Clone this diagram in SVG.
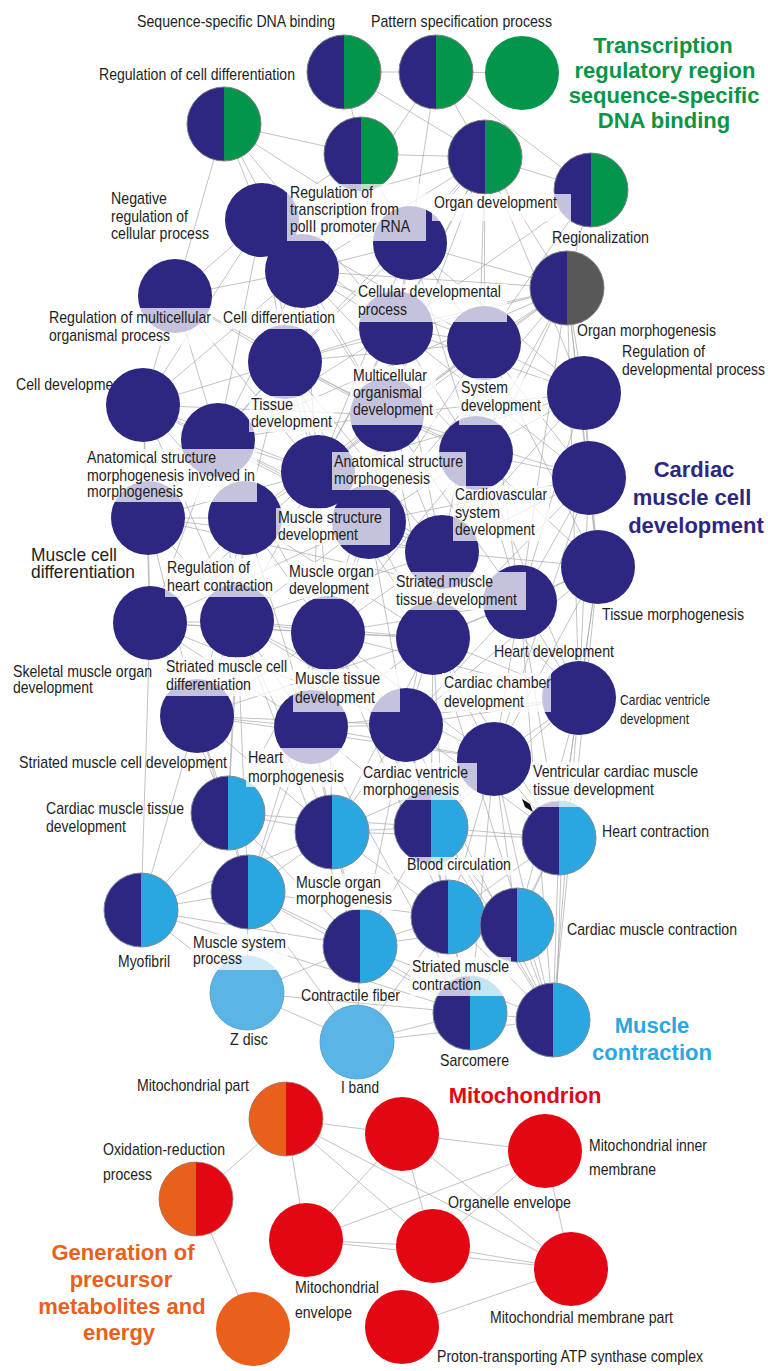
<svg xmlns="http://www.w3.org/2000/svg" xmlns:xlink="http://www.w3.org/1999/xlink" width="768" height="1371" viewBox="0 0 768 1371">
<style>
.e{stroke:#a6a6a6;stroke-width:0.85;fill:none;opacity:0.8}
.t{font-family:"Liberation Sans",Arial,sans-serif;font-size:17px;fill:#1e1e1e}
.ts{font-family:"Liberation Sans",Arial,sans-serif;font-size:15px;fill:#1e1e1e}
.tm{font-family:"Liberation Sans",Arial,sans-serif;font-size:19px;fill:#1e1e1e}
.h{font-family:"Liberation Sans",Arial,sans-serif;font-size:22px;font-weight:bold;text-anchor:middle}
.lb{fill:#ffffff;opacity:0.72}
.pu{fill:#2E2782}
.gr{fill:#03954A}
.lbl{fill:#5BB4E6;stroke:#4a9ccc;stroke-width:0.8}
.rd{fill:#E30613}
.or{fill:#E8601B}
</style>
<defs>
<g id="pie-pg"><circle r="37" fill="#03954A"/><path d="M0 -37A37 37 0 0 0 0 37Z" fill="#2E2782"/><circle r="37" fill="none" stroke="#808080" stroke-width="1"/></g>
<g id="pie-pb"><circle r="37" fill="#2AA7E0"/><path d="M0 -37A37 37 0 0 0 0 37Z" fill="#2E2782"/><circle r="37" fill="none" stroke="#7d8a95" stroke-width="1"/></g>
<g id="pie-pk"><circle r="37" fill="#585858"/><path d="M0 -37A37 37 0 0 0 0 37Z" fill="#2E2782"/><circle r="37" fill="none" stroke="#808080" stroke-width="1"/></g>
<g id="pie-or"><circle r="37" fill="#E30613"/><path d="M0 -37A37 37 0 0 0 0 37Z" fill="#E8601B"/><circle r="37" fill="none" stroke="#a08070" stroke-width="0.8"/></g>
</defs>
<rect width="768" height="1371" fill="#ffffff"/>

<g id="connectors">
<path class="e" d="M344 72L436 72"/><path class="e" d="M436 72L522 73"/><path class="e" d="M344 72L361 154"/><path class="e" d="M224 124L361 154"/><path class="e" d="M436 72L485 157"/><path class="e" d="M436 72L591 190"/><path class="e" d="M344 72L485 157"/><path class="e" d="M361 154L485 157"/><path class="e" d="M485 157L591 190"/>
<path class="e" d="M224 124L262 220"/><path class="e" d="M224 124L302 271"/><path class="e" d="M224 124L410 243"/><path class="e" d="M224 124L396 328"/><path class="e" d="M224 124L175 296"/>
<path class="e" d="M361 154L262 220"/><path class="e" d="M361 154L302 271"/><path class="e" d="M361 154L285 362"/><path class="e" d="M361 154L410 243"/>
<path class="e" d="M485 157L410 243"/><path class="e" d="M485 157L396 328"/><path class="e" d="M485 157L484 343"/><path class="e" d="M485 157L285 362"/><path class="e" d="M485 157L387 415"/><path class="e" d="M485 157L476 453"/><path class="e" d="M485 157L318 472"/><path class="e" d="M485 157L302 271"/><path class="e" d="M485 157L262 220"/><path class="e" d="M485 157L567 288"/><path class="e" d="M485 157L584 393"/>
<path class="e" d="M591 190L567 288"/><path class="e" d="M591 190L484 343"/><path class="e" d="M591 190L396 328"/><path class="e" d="M436 72L410 243"/><path class="e" d="M436 72L302 271"/>
<path class="e" d="M567 288L396 328"/><path class="e" d="M567 288L484 343"/><path class="e" d="M567 288L584 393"/><path class="e" d="M567 288L387 415"/><path class="e" d="M567 288L476 453"/><path class="e" d="M567 288L589 478"/><path class="e" d="M567 288L598 567"/><path class="e" d="M567 288L318 472"/><path class="e" d="M567 288L520 602"/><path class="e" d="M567 288L302 271"/><path class="e" d="M567 288L285 362"/><path class="e" d="M567 288L410 243"/><path class="e" d="M567 288L442 552"/><path class="e" d="M567 288L369 522"/><path class="e" d="M567 288L218 440"/><path class="e" d="M567 288L579 698"/>
<path class="e" d="M262 220L410 243"/><path class="e" d="M262 220L302 271"/><path class="e" d="M262 220L175 296"/><path class="e" d="M262 220L396 328"/><path class="e" d="M262 220L285 362"/><path class="e" d="M262 220L387 415"/><path class="e" d="M262 220L484 343"/><path class="e" d="M262 220L318 472"/>
<path class="e" d="M410 243L302 271"/><path class="e" d="M410 243L396 328"/><path class="e" d="M410 243L484 343"/><path class="e" d="M410 243L285 362"/><path class="e" d="M410 243L387 415"/><path class="e" d="M410 243L476 453"/>
<path class="e" d="M302 271L175 296"/><path class="e" d="M302 271L396 328"/><path class="e" d="M302 271L285 362"/><path class="e" d="M302 271L143 405"/><path class="e" d="M302 271L387 415"/><path class="e" d="M302 271L218 440"/><path class="e" d="M302 271L484 343"/><path class="e" d="M302 271L318 472"/>
<path class="e" d="M175 296L285 362"/><path class="e" d="M175 296L143 405"/><path class="e" d="M175 296L218 440"/>
<path class="e" d="M396 328L484 343"/><path class="e" d="M396 328L285 362"/><path class="e" d="M396 328L387 415"/><path class="e" d="M396 328L476 453"/><path class="e" d="M396 328L318 472"/><path class="e" d="M396 328L584 393"/><path class="e" d="M396 328L218 440"/><path class="e" d="M396 328L369 522"/>
<path class="e" d="M484 343L584 393"/><path class="e" d="M484 343L387 415"/><path class="e" d="M484 343L476 453"/><path class="e" d="M484 343L589 478"/><path class="e" d="M484 343L318 472"/><path class="e" d="M484 343L442 552"/><path class="e" d="M484 343L285 362"/>
<path class="e" d="M584 393L476 453"/><path class="e" d="M584 393L589 478"/><path class="e" d="M584 393L387 415"/><path class="e" d="M584 393L598 567"/><path class="e" d="M584 393L442 552"/><path class="e" d="M584 393L520 602"/>
<path class="e" d="M285 362L143 405"/><path class="e" d="M285 362L387 415"/><path class="e" d="M285 362L218 440"/><path class="e" d="M285 362L318 472"/><path class="e" d="M285 362L245 518"/><path class="e" d="M285 362L476 453"/><path class="e" d="M285 362L369 522"/>
<path class="e" d="M143 405L218 440"/><path class="e" d="M143 405L318 472"/><path class="e" d="M143 405L148 518"/><path class="e" d="M143 405L245 518"/><path class="e" d="M143 405L387 415"/><path class="e" d="M143 405L369 522"/><path class="e" d="M143 405L237 621"/>
<path class="e" d="M387 415L218 440"/><path class="e" d="M387 415L476 453"/><path class="e" d="M387 415L318 472"/><path class="e" d="M387 415L369 522"/><path class="e" d="M387 415L442 552"/><path class="e" d="M387 415L589 478"/><path class="e" d="M387 415L245 518"/>
<path class="e" d="M218 440L318 472"/><path class="e" d="M218 440L148 518"/><path class="e" d="M218 440L245 518"/><path class="e" d="M218 440L369 522"/><path class="e" d="M218 440L150 623"/><path class="e" d="M218 440L237 621"/><path class="e" d="M218 440L328 633"/>
<path class="e" d="M476 453L589 478"/><path class="e" d="M476 453L318 472"/><path class="e" d="M476 453L369 522"/><path class="e" d="M476 453L442 552"/><path class="e" d="M476 453L598 567"/><path class="e" d="M476 453L520 602"/><path class="e" d="M476 453L433 638"/><path class="e" d="M476 453L328 633"/>
<path class="e" d="M589 478L442 552"/><path class="e" d="M589 478L598 567"/><path class="e" d="M589 478L520 602"/><path class="e" d="M589 478L579 698"/><path class="e" d="M589 478L433 638"/>
<path class="e" d="M318 472L148 518"/><path class="e" d="M318 472L245 518"/><path class="e" d="M318 472L369 522"/><path class="e" d="M318 472L442 552"/><path class="e" d="M318 472L433 638"/><path class="e" d="M318 472L237 621"/><path class="e" d="M318 472L328 633"/>
<path class="e" d="M148 518L245 518"/><path class="e" d="M148 518L150 623"/><path class="e" d="M148 518L237 621"/><path class="e" d="M148 518L197 716"/><path class="e" d="M148 518L442 552"/><path class="e" d="M148 518L520 602"/>
<path class="e" d="M245 518L369 522"/><path class="e" d="M245 518L150 623"/><path class="e" d="M245 518L237 621"/><path class="e" d="M245 518L328 633"/><path class="e" d="M245 518L197 716"/><path class="e" d="M245 518L311 727"/>
<path class="e" d="M369 522L442 552"/><path class="e" d="M369 522L433 638"/><path class="e" d="M369 522L237 621"/><path class="e" d="M369 522L328 633"/><path class="e" d="M369 522L520 602"/>
<path class="e" d="M442 552L520 602"/><path class="e" d="M442 552L433 638"/><path class="e" d="M442 552L328 633"/><path class="e" d="M442 552L598 567"/><path class="e" d="M442 552L406 725"/>
<path class="e" d="M598 567L520 602"/><path class="e" d="M598 567L579 698"/><path class="e" d="M598 567L494 759"/><path class="e" d="M598 567L433 638"/>
<path class="e" d="M520 602L433 638"/><path class="e" d="M520 602L579 698"/><path class="e" d="M520 602L406 725"/><path class="e" d="M520 602L494 759"/>
<path class="e" d="M433 638L328 633"/><path class="e" d="M433 638L406 725"/><path class="e" d="M433 638L494 759"/><path class="e" d="M433 638L579 698"/><path class="e" d="M433 638L311 727"/>
<path class="e" d="M150 623L237 621"/><path class="e" d="M150 623L197 716"/><path class="e" d="M150 623L311 727"/><path class="e" d="M150 623L328 633"/><path class="e" d="M150 623L433 638"/>
<path class="e" d="M237 621L328 633"/><path class="e" d="M237 621L197 716"/><path class="e" d="M237 621L311 727"/><path class="e" d="M237 621L406 725"/><path class="e" d="M237 621L494 759"/>
<path class="e" d="M328 633L311 727"/><path class="e" d="M328 633L406 725"/><path class="e" d="M328 633L197 716"/><path class="e" d="M328 633L494 759"/>
<path class="e" d="M579 698L494 759"/><path class="e" d="M579 698L406 725"/><path class="e" d="M197 716L311 727"/><path class="e" d="M197 716L406 725"/><path class="e" d="M197 716L494 759"/><path class="e" d="M311 727L406 725"/><path class="e" d="M311 727L494 759"/>
<path class="e" d="M175 296L318 472"/><path class="e" d="M175 296L387 415"/><path class="e" d="M262 220L143 405"/><path class="e" d="M262 220L218 440"/><path class="e" d="M410 243L318 472"/><path class="e" d="M410 243L584 393"/><path class="e" d="M302 271L476 453"/><path class="e" d="M396 328L589 478"/><path class="e" d="M396 328L442 552"/><path class="e" d="M484 343L369 522"/><path class="e" d="M484 343L598 567"/><path class="e" d="M484 343L520 602"/><path class="e" d="M584 393L318 472"/><path class="e" d="M285 362L148 518"/><path class="e" d="M285 362L442 552"/><path class="e" d="M143 405L150 623"/><path class="e" d="M387 415L520 602"/><path class="e" d="M387 415L433 638"/><path class="e" d="M387 415L328 633"/><path class="e" d="M218 440L442 552"/><path class="e" d="M476 453L579 698"/><path class="e" d="M589 478L369 522"/><path class="e" d="M589 478L494 759"/><path class="e" d="M318 472L520 602"/><path class="e" d="M318 472L150 623"/><path class="e" d="M318 472L311 727"/><path class="e" d="M245 518L433 638"/><path class="e" d="M245 518L442 552"/><path class="e" d="M369 522L150 623"/><path class="e" d="M369 522L406 725"/><path class="e" d="M369 522L311 727"/><path class="e" d="M442 552L237 621"/><path class="e" d="M442 552L579 698"/><path class="e" d="M598 567L406 725"/><path class="e" d="M520 602L328 633"/><path class="e" d="M433 638L237 621"/><path class="e" d="M433 638L197 716"/><path class="e" d="M150 623L406 725"/><path class="e" d="M328 633L579 698"/><path class="e" d="M579 698L311 727"/>
<path class="e" d="M197 716L228 813"/><path class="e" d="M311 727L228 813"/><path class="e" d="M311 727L332 832"/><path class="e" d="M406 725L332 832"/><path class="e" d="M406 725L431 827"/><path class="e" d="M494 759L431 827"/><path class="e" d="M494 759L559 838"/><path class="e" d="M328 633L228 813"/><path class="e" d="M237 621L228 813"/><path class="e" d="M328 633L332 832"/><path class="e" d="M433 638L332 832"/><path class="e" d="M433 638L431 827"/><path class="e" d="M579 698L431 827"/><path class="e" d="M579 698L559 838"/><path class="e" d="M520 602L559 838"/><path class="e" d="M598 567L559 838"/><path class="e" d="M150 623L228 813"/><path class="e" d="M245 518L228 813"/>
<path class="e" d="M237 621L332 832"/><path class="e" d="M197 716L332 832"/><path class="e" d="M311 727L431 827"/><path class="e" d="M494 759L332 832"/><path class="e" d="M406 725L559 838"/><path class="e" d="M328 633L431 827"/><path class="e" d="M433 638L559 838"/><path class="e" d="M150 623L141 910"/><path class="e" d="M237 621L360 946"/><path class="e" d="M494 759L470 1013"/>
<path class="e" d="M579 698L553 1020"/><path class="e" d="M494 759L553 1020"/><path class="e" d="M406 725L553 1020"/><path class="e" d="M433 638L553 1020"/><path class="e" d="M328 633L553 1020"/><path class="e" d="M311 727L470 1013"/><path class="e" d="M406 725L470 1013"/><path class="e" d="M433 638L448 917"/><path class="e" d="M328 633L448 917"/><path class="e" d="M197 716L248 892"/><path class="e" d="M237 621L248 892"/><path class="e" d="M328 633L248 892"/><path class="e" d="M311 727L360 946"/><path class="e" d="M406 725L360 946"/><path class="e" d="M494 759L517 925"/><path class="e" d="M579 698L517 925"/><path class="e" d="M311 727L248 892"/><path class="e" d="M406 725L448 917"/><path class="e" d="M494 759L448 917"/><path class="e" d="M197 716L141 910"/><path class="e" d="M520 602L553 1020"/><path class="e" d="M598 567L553 1020"/>
<path class="e" d="M228 813L332 832"/><path class="e" d="M228 813L141 910"/><path class="e" d="M228 813L248 892"/><path class="e" d="M228 813L431 827"/><path class="e" d="M332 832L431 827"/><path class="e" d="M332 832L248 892"/><path class="e" d="M332 832L448 917"/><path class="e" d="M332 832L360 946"/><path class="e" d="M332 832L559 838"/><path class="e" d="M431 827L559 838"/><path class="e" d="M431 827L448 917"/><path class="e" d="M431 827L517 925"/><path class="e" d="M431 827L360 946"/><path class="e" d="M559 838L517 925"/><path class="e" d="M559 838L553 1020"/><path class="e" d="M562 840L556 1020"/><path class="e" d="M559 838L448 917"/><path class="e" d="M559 838L470 1013"/>
<path class="e" d="M141 910L248 892"/><path class="e" d="M141 910L247 993"/><path class="e" d="M141 910L332 832"/><path class="e" d="M141 910L360 946"/><path class="e" d="M141 910L470 1013"/><path class="e" d="M248 892L360 946"/><path class="e" d="M248 892L247 993"/><path class="e" d="M248 892L357 1042"/><path class="e" d="M248 892L448 917"/><path class="e" d="M248 892L470 1013"/><path class="e" d="M448 917L517 925"/><path class="e" d="M448 917L360 946"/><path class="e" d="M448 917L470 1013"/><path class="e" d="M448 917L553 1020"/><path class="e" d="M448 917L357 1042"/><path class="e" d="M517 925L553 1020"/><path class="e" d="M517 925L470 1013"/><path class="e" d="M517 925L360 946"/><path class="e" d="M360 946L247 993"/><path class="e" d="M360 946L357 1042"/><path class="e" d="M360 946L470 1013"/><path class="e" d="M360 946L553 1020"/><path class="e" d="M247 993L357 1042"/><path class="e" d="M247 993L470 1013"/><path class="e" d="M357 1042L470 1013"/><path class="e" d="M357 1042L553 1020"/><path class="e" d="M470 1013L553 1020"/><path class="e" d="M228 813L360 946"/><path class="e" d="M431 827L553 1020"/>
<path class="e" d="M286 1119L402 1134"/><path class="e" d="M286 1119L306 1240"/><path class="e" d="M286 1119L571 1269"/><path class="e" d="M286 1119L433 1246"/><path class="e" d="M196 1199L286 1119"/><path class="e" d="M196 1199L253 1329"/><path class="e" d="M402 1134L545 1151"/><path class="e" d="M402 1134L306 1240"/><path class="e" d="M402 1134L433 1246"/><path class="e" d="M306 1240L545 1151"/><path class="e" d="M545 1151L433 1246"/><path class="e" d="M545 1151L571 1269"/><path class="e" d="M306 1240L433 1246"/><path class="e" d="M306 1240L571 1269"/><path class="e" d="M433 1246L571 1269"/><path class="e" d="M402 1327L571 1269"/><path class="e" d="M402 1134L571 1269"/>
<polygon points="522,799 530,804 533,812 525,807" fill="#111111"/>
</g>

<g id="labels-under">
<text class="t" x="16" y="390" textLength="109" lengthAdjust="spacingAndGlyphs">Cell development</text>
</g>

<g id="nodes">
<g id="n-seq-dna"><use href="#pie-pg" x="344" y="72"/></g>
<g id="n-pattern"><use href="#pie-pg" x="436" y="72"/></g>
<g id="n-trr"><circle class="gr" cx="522" cy="73" r="37"/></g>
<g id="n-reg-cell-diff"><use href="#pie-pg" x="224" y="124"/></g>
<g id="n-g5"><use href="#pie-pg" x="361" y="154"/></g>
<g id="n-organ-dev"><use href="#pie-pg" x="485" y="157"/></g>
<g id="n-g7"><use href="#pie-pg" x="591" y="190"/></g>
<g id="n-regionalization"><use href="#pie-pk" x="567" y="288"/></g>
<g id="n-p1"><circle class="pu" cx="262" cy="220" r="37"/></g>
<g id="n-p2"><circle class="pu" cx="410" cy="243" r="37"/></g>
<g id="n-p3"><circle class="pu" cx="302" cy="271" r="37"/></g>
<g id="n-p4"><circle class="pu" cx="175" cy="296" r="37"/></g>
<g id="n-p5"><circle class="pu" cx="396" cy="328" r="37"/></g>
<g id="n-p6"><circle class="pu" cx="484" cy="343" r="37"/></g>
<g id="n-p7"><circle class="pu" cx="584" cy="393" r="37"/></g>
<g id="n-p8"><circle class="pu" cx="285" cy="362" r="37"/></g>
<g id="n-p9"><circle class="pu" cx="143" cy="405" r="37"/></g>
<g id="n-p10"><circle class="pu" cx="387" cy="415" r="37"/></g>
<g id="n-p11"><circle class="pu" cx="218" cy="440" r="37"/></g>
<g id="n-p12"><circle class="pu" cx="476" cy="453" r="37"/></g>
<g id="n-p13"><circle class="pu" cx="589" cy="478" r="37"/></g>
<g id="n-p14"><circle class="pu" cx="318" cy="472" r="37"/></g>
<g id="n-p15"><circle class="pu" cx="148" cy="518" r="37"/></g>
<g id="n-p16"><circle class="pu" cx="245" cy="518" r="37"/></g>
<g id="n-p17"><circle class="pu" cx="369" cy="522" r="37"/></g>
<g id="n-p18"><circle class="pu" cx="442" cy="552" r="37"/></g>
<g id="n-p19"><circle class="pu" cx="598" cy="567" r="37"/></g>
<g id="n-p20"><circle class="pu" cx="520" cy="602" r="37"/></g>
<g id="n-p21"><circle class="pu" cx="433" cy="638" r="37"/></g>
<g id="n-p22"><circle class="pu" cx="150" cy="623" r="37"/></g>
<g id="n-p23"><circle class="pu" cx="237" cy="621" r="37"/></g>
<g id="n-p24"><circle class="pu" cx="328" cy="633" r="37"/></g>
<g id="n-p25"><circle class="pu" cx="579" cy="698" r="37"/></g>
<g id="n-p26"><circle class="pu" cx="197" cy="716" r="37"/></g>
<g id="n-p27"><circle class="pu" cx="311" cy="727" r="37"/></g>
<g id="n-p28"><circle class="pu" cx="406" cy="725" r="37"/></g>
<g id="n-p29"><circle class="pu" cx="494" cy="759" r="37"/></g>
<g id="n-b1"><use href="#pie-pb" x="228" y="813"/></g>
<g id="n-b2"><use href="#pie-pb" x="332" y="832"/></g>
<g id="n-b3"><use href="#pie-pb" x="431" y="827"/></g>
<g id="n-b4"><use href="#pie-pb" x="559" y="838"/></g>
<g id="n-b5"><use href="#pie-pb" x="141" y="910"/></g>
<g id="n-b6"><use href="#pie-pb" x="248" y="892"/></g>
<g id="n-b7"><use href="#pie-pb" x="448" y="917"/></g>
<g id="n-b8"><use href="#pie-pb" x="517" y="925"/></g>
<g id="n-b9"><use href="#pie-pb" x="360" y="946"/></g>
<g id="n-zdisc"><circle class="lbl" cx="247" cy="993" r="37"/></g>
<g id="n-iband"><circle class="lbl" cx="357" cy="1042" r="37"/></g>
<g id="n-b12"><use href="#pie-pb" x="470" y="1013"/></g>
<g id="n-b13"><use href="#pie-pb" x="553" y="1020"/></g>
<g id="n-mito-part"><use href="#pie-or" x="286" y="1119"/></g>
<g id="n-oxred"><use href="#pie-or" x="196" y="1199"/></g>
<g id="n-r3"><circle class="rd" cx="402" cy="1134" r="37"/></g>
<g id="n-mito-inner"><circle class="rd" cx="545" cy="1151" r="37"/></g>
<g id="n-mito-env"><circle class="rd" cx="306" cy="1240" r="37"/></g>
<g id="n-organelle-env"><circle class="rd" cx="433" cy="1246" r="37"/></g>
<g id="n-mito-mem-part"><circle class="rd" cx="571" cy="1269" r="37"/></g>
<g id="n-generation"><circle class="or" cx="253" cy="1329" r="37"/></g>
<g id="n-proton"><circle class="rd" cx="402" cy="1327" r="37"/></g>
</g>

<g id="labels">
<text class="t" x="137" y="27" textLength="198" lengthAdjust="spacingAndGlyphs">Sequence-specific DNA binding</text>
<text class="t" x="371" y="27" textLength="181" lengthAdjust="spacingAndGlyphs">Pattern specification process</text>
<text class="t" x="99" y="80" textLength="196" lengthAdjust="spacingAndGlyphs">Regulation of cell differentiation</text>
<g id="l-negative"><text class="t" x="111" y="204" textLength="56" lengthAdjust="spacingAndGlyphs">Negative</text><text class="t" x="111" y="222" textLength="77" lengthAdjust="spacingAndGlyphs">regulation of</text><text class="t" x="111" y="239" textLength="98" lengthAdjust="spacingAndGlyphs">cellular process</text></g>
<g id="l-reg-transcription"><rect class="lb" x="287" y="184" width="139" height="57"/><text class="t" x="290" y="198" textLength="83" lengthAdjust="spacingAndGlyphs">Regulation of</text><text class="t" x="290" y="215" textLength="109" lengthAdjust="spacingAndGlyphs">transcription from</text><text class="t" x="290" y="232" textLength="120" lengthAdjust="spacingAndGlyphs">polII promoter RNA</text></g>
<g id="l-organ-dev"><rect class="lb" x="432" y="194" width="139" height="27"/><text class="t" x="434" y="208" textLength="123" lengthAdjust="spacingAndGlyphs">Organ development</text></g>
<text class="t" x="552" y="243" textLength="97" lengthAdjust="spacingAndGlyphs">Regionalization</text>
<g id="l-reg-multi"><rect class="lb" x="47" y="308" width="166" height="38"/><text class="t" x="49" y="323" textLength="162" lengthAdjust="spacingAndGlyphs">Regulation of multicellular</text><text class="t" x="49" y="341" textLength="121" lengthAdjust="spacingAndGlyphs">organismal process</text></g>
<g id="l-cell-diff"><rect class="lb" x="221" y="309" width="116" height="20"/><text class="t" x="223" y="323" textLength="112" lengthAdjust="spacingAndGlyphs">Cell differentiation</text></g>
<g id="l-cellular-dev"><rect class="lb" x="356" y="284" width="151" height="38"/><text class="t" x="358" y="297" textLength="143" lengthAdjust="spacingAndGlyphs">Cellular developmental</text><text class="t" x="358" y="315" textLength="49" lengthAdjust="spacingAndGlyphs">process</text></g>
<text class="t" x="577" y="336" textLength="139" lengthAdjust="spacingAndGlyphs">Organ morphogenesis</text>
<g id="l-reg-dev"><text class="t" x="622" y="357" textLength="83" lengthAdjust="spacingAndGlyphs">Regulation of</text><text class="t" x="622" y="375" textLength="143" lengthAdjust="spacingAndGlyphs">developmental process</text></g>
<g id="l-tissue-dev"><rect class="lb" x="249" y="396" width="85" height="36"/><text class="t" x="251" y="410" textLength="42" lengthAdjust="spacingAndGlyphs">Tissue</text><text class="t" x="251" y="427" textLength="81" lengthAdjust="spacingAndGlyphs">development</text></g>
<g id="l-multi-dev"><rect class="lb" x="350" y="366" width="86" height="59"/><text class="t" x="353" y="381" textLength="74" lengthAdjust="spacingAndGlyphs">Multicellular</text><text class="t" x="353" y="398" textLength="69" lengthAdjust="spacingAndGlyphs">organismal</text><text class="t" x="353" y="415" textLength="80" lengthAdjust="spacingAndGlyphs">development</text></g>
<g id="l-system-dev"><rect class="lb" x="459" y="378" width="84" height="47"/><text class="t" x="461" y="393" textLength="47" lengthAdjust="spacingAndGlyphs">System</text><text class="t" x="461" y="411" textLength="80" lengthAdjust="spacingAndGlyphs">development</text></g>
<g id="l-asm-involved"><rect class="lb" x="85" y="449" width="172" height="53"/><text class="t" x="87" y="463" textLength="129" lengthAdjust="spacingAndGlyphs">Anatomical structure</text><text class="t" x="87" y="481" textLength="168" lengthAdjust="spacingAndGlyphs">morphogenesis involved in</text><text class="t" x="87" y="497" textLength="96" lengthAdjust="spacingAndGlyphs">morphogenesis</text></g>
<g id="l-asm"><rect class="lb" x="332" y="452" width="134" height="38"/><text class="t" x="334" y="467" textLength="129" lengthAdjust="spacingAndGlyphs">Anatomical structure</text><text class="t" x="334" y="484" textLength="96" lengthAdjust="spacingAndGlyphs">morphogenesis</text></g>
<g id="l-cardiovascular"><rect class="lb" x="453" y="486" width="96" height="55"/><text class="t" x="455" y="500" textLength="92" lengthAdjust="spacingAndGlyphs">Cardiovascular</text><text class="t" x="455" y="518" textLength="45" lengthAdjust="spacingAndGlyphs">system</text><text class="t" x="455" y="535" textLength="80" lengthAdjust="spacingAndGlyphs">development</text></g>
<g id="l-muscle-structure"><rect class="lb" x="276" y="508" width="114" height="37"/><text class="t" x="278" y="523" textLength="104" lengthAdjust="spacingAndGlyphs">Muscle structure</text><text class="t" x="278" y="540" textLength="80" lengthAdjust="spacingAndGlyphs">development</text></g>
<g id="l-muscle-cell-diff"><text class="tm" x="31" y="561" textLength="86" lengthAdjust="spacingAndGlyphs">Muscle cell</text><text class="tm" x="31" y="578" textLength="104" lengthAdjust="spacingAndGlyphs">differentiation</text></g>
<g id="l-reg-heart"><rect class="lb" x="165" y="558" width="110" height="39"/><text class="t" x="167" y="573" textLength="83" lengthAdjust="spacingAndGlyphs">Regulation of</text><text class="t" x="167" y="591" textLength="106" lengthAdjust="spacingAndGlyphs">heart contraction</text></g>
<g id="l-muscle-organ-dev"><rect class="lb" x="287" y="562" width="88" height="37"/><text class="t" x="289" y="577" textLength="85" lengthAdjust="spacingAndGlyphs">Muscle organ</text><text class="t" x="289" y="594" textLength="80" lengthAdjust="spacingAndGlyphs">development</text></g>
<g id="l-striated-tissue"><rect class="lb" x="394" y="572" width="132" height="38"/><text class="t" x="396" y="587" textLength="97" lengthAdjust="spacingAndGlyphs">Striated muscle</text><text class="t" x="396" y="605" textLength="121" lengthAdjust="spacingAndGlyphs">tissue development</text></g>
<text class="t" x="602" y="620" textLength="142" lengthAdjust="spacingAndGlyphs">Tissue morphogenesis</text>
<g id="l-skeletal"><text class="t" x="13" y="677" textLength="139" lengthAdjust="spacingAndGlyphs">Skeletal muscle organ</text><text class="t" x="13" y="693" textLength="80" lengthAdjust="spacingAndGlyphs">development</text></g>
<g id="l-striated-cell-diff"><rect class="lb" x="164" y="657" width="126" height="39"/><text class="t" x="166" y="672" textLength="121" lengthAdjust="spacingAndGlyphs">Striated muscle cell</text><text class="t" x="166" y="690" textLength="85" lengthAdjust="spacingAndGlyphs">differentiation</text></g>
<g id="l-muscle-tissue"><rect class="lb" x="293" y="669" width="107" height="43"/><text class="t" x="295" y="684" textLength="85" lengthAdjust="spacingAndGlyphs">Muscle tissue</text><text class="t" x="295" y="703" textLength="80" lengthAdjust="spacingAndGlyphs">development</text></g>
<text class="t" x="494" y="657" textLength="120" lengthAdjust="spacingAndGlyphs">Heart development</text>
<g id="l-chamber"><rect class="lb" x="442" y="673" width="109" height="39"/><text class="t" x="444" y="688" textLength="107" lengthAdjust="spacingAndGlyphs">Cardiac chamber</text><text class="t" x="444" y="707" textLength="80" lengthAdjust="spacingAndGlyphs">development</text></g>
<g id="l-ventricle-dev"><text class="ts" x="620" y="705" textLength="90" lengthAdjust="spacingAndGlyphs">Cardiac ventricle</text><text class="ts" x="620" y="724" textLength="69" lengthAdjust="spacingAndGlyphs">development</text></g>
<text class="t" x="19" y="768" textLength="208" lengthAdjust="spacingAndGlyphs">Striated muscle cell development</text>
<g id="l-heart-morph"><rect class="lb" x="246" y="748" width="100" height="39"/><text class="t" x="248" y="763" textLength="35" lengthAdjust="spacingAndGlyphs">Heart</text><text class="t" x="248" y="782" textLength="96" lengthAdjust="spacingAndGlyphs">morphogenesis</text></g>
<g id="l-ventricle-morph"><rect class="lb" x="361" y="763" width="116" height="37"/><text class="t" x="363" y="778" textLength="105" lengthAdjust="spacingAndGlyphs">Cardiac ventricle</text><text class="t" x="363" y="795" textLength="96" lengthAdjust="spacingAndGlyphs">morphogenesis</text></g>
<g id="l-ventricular"><rect class="lb" x="531" y="762" width="169" height="45"/><text class="t" x="533" y="777" textLength="165" lengthAdjust="spacingAndGlyphs">Ventricular cardiac muscle</text><text class="t" x="533" y="795" textLength="121" lengthAdjust="spacingAndGlyphs">tissue development</text></g>
<g id="l-cardiac-tissue"><text class="t" x="46" y="814" textLength="138" lengthAdjust="spacingAndGlyphs">Cardiac muscle tissue</text><text class="t" x="46" y="832" textLength="80" lengthAdjust="spacingAndGlyphs">development</text></g>
<text class="t" x="602" y="837" textLength="107" lengthAdjust="spacingAndGlyphs">Heart contraction</text>
<g id="l-blood"><rect class="lb" x="405" y="857" width="108" height="18"/><text class="t" x="407" y="870" textLength="104" lengthAdjust="spacingAndGlyphs">Blood circulation</text></g>
<g id="l-muscle-organ-morph"><rect class="lb" x="294" y="874" width="100" height="36"/><text class="t" x="296" y="888" textLength="85" lengthAdjust="spacingAndGlyphs">Muscle organ</text><text class="t" x="296" y="904" textLength="96" lengthAdjust="spacingAndGlyphs">morphogenesis</text></g>
<text class="t" x="567" y="935" textLength="170" lengthAdjust="spacingAndGlyphs">Cardiac muscle contraction</text>
<text class="t" x="118" y="967" textLength="52" lengthAdjust="spacingAndGlyphs">Myofibril</text>
<g id="l-muscle-system"><rect class="lb" x="191" y="934" width="97" height="36"/><text class="t" x="193" y="948" textLength="93" lengthAdjust="spacingAndGlyphs">Muscle system</text><text class="t" x="193" y="964" textLength="49" lengthAdjust="spacingAndGlyphs">process</text></g>
<g id="l-striated-contraction"><rect class="lb" x="410" y="957" width="101" height="39"/><text class="t" x="412" y="972" textLength="97" lengthAdjust="spacingAndGlyphs">Striated muscle</text><text class="t" x="412" y="990" textLength="69" lengthAdjust="spacingAndGlyphs">contraction</text></g>
<text class="t" x="301" y="1001" textLength="99" lengthAdjust="spacingAndGlyphs">Contractile fiber</text>
<text class="t" x="230" y="1045" textLength="38" lengthAdjust="spacingAndGlyphs">Z disc</text>
<text class="t" x="440" y="1066" textLength="69" lengthAdjust="spacingAndGlyphs">Sarcomere</text>
<text class="t" x="341" y="1093" textLength="38" lengthAdjust="spacingAndGlyphs">I band</text>
<text class="t" x="137" y="1091" textLength="112" lengthAdjust="spacingAndGlyphs">Mitochondrial part</text>
<g id="l-oxred"><text class="t" x="103" y="1155" textLength="122" lengthAdjust="spacingAndGlyphs">Oxidation-reduction</text><text class="t" x="103" y="1180" textLength="49" lengthAdjust="spacingAndGlyphs">process</text></g>
<g id="l-mito-inner"><text class="t" x="589" y="1151" textLength="118" lengthAdjust="spacingAndGlyphs">Mitochondrial inner</text><text class="t" x="589" y="1175" textLength="67" lengthAdjust="spacingAndGlyphs">membrane</text></g>
<text class="t" x="448" y="1208" textLength="123" lengthAdjust="spacingAndGlyphs">Organelle envelope</text>
<g id="l-mito-env"><text class="t" x="295" y="1293" textLength="84" lengthAdjust="spacingAndGlyphs">Mitochondrial</text><text class="t" x="295" y="1318" textLength="57" lengthAdjust="spacingAndGlyphs">envelope</text></g>
<text class="t" x="490" y="1323" textLength="183" lengthAdjust="spacingAndGlyphs">Mitochondrial membrane part</text>
<text class="t" x="437" y="1362" textLength="266" lengthAdjust="spacingAndGlyphs">Proton-transporting ATP synthase complex</text>
</g>

<g id="titles">
<g id="t-transcription" fill="#0A9447"><text class="h" x="663" y="53">Transcription</text><text class="h" x="665" y="78">regulatory region</text><text class="h" x="664" y="103">sequence-specific</text><text class="h" x="664" y="128">DNA binding</text></g>
<g id="t-cardiac" fill="#2E2782"><text class="h" x="694" y="477">Cardiac</text><text class="h" x="692" y="505">muscle cell</text><text class="h" x="696" y="533">development</text></g>
<g id="t-muscle-contraction" fill="#2AA7E0"><text class="h" x="652" y="1033">Muscle</text><text class="h" x="652" y="1060">contraction</text></g>
<g id="t-mitochondrion" fill="#E30613"><text class="h" x="525" y="1103">Mitochondrion</text></g>
<g id="t-generation" fill="#E8601B"><text class="h" x="123" y="1260">Generation of</text><text class="h" x="121" y="1287">precursor</text><text class="h" x="122" y="1314">metabolites and</text><text class="h" x="119" y="1340">energy</text></g>
</g>
</svg>
